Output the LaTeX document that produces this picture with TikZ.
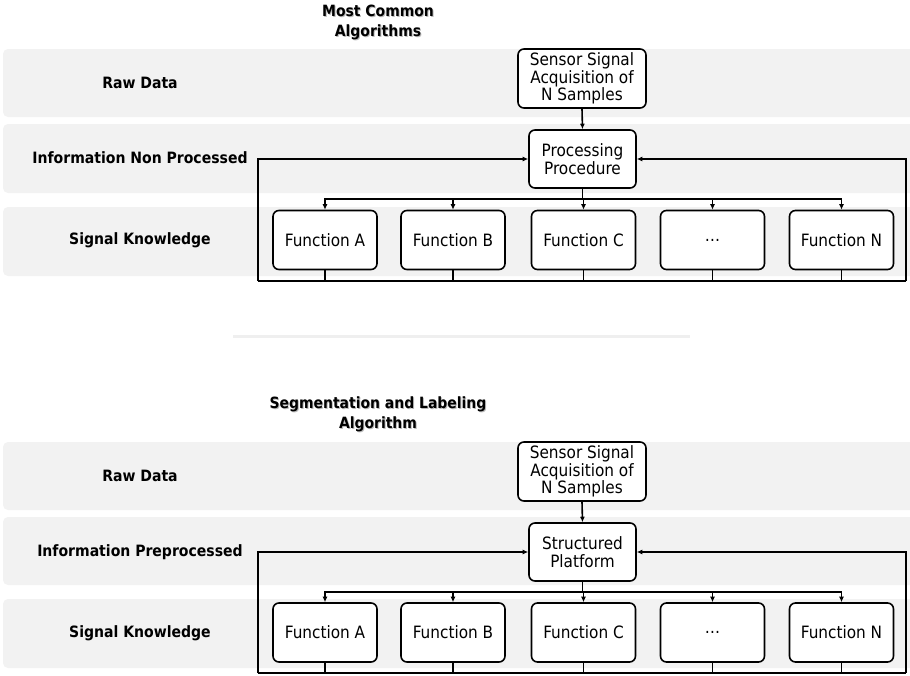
\documentclass[tikz,border=0pt]{standalone}
\usepackage{fontspec}
\setmainfont{DejaVu Sans Condensed}
\usetikzlibrary{arrows.meta}

\definecolor{bandgray}{HTML}{F2F2F2}
\definecolor{rulegray}{HTML}{EFEFEF}

\tikzset{
  band/.style={fill=bandgray, rounded corners=5pt},
  stagebox/.style={draw=black, line width=1.6pt, rounded corners=6pt, fill=white,
    align=center, inner sep=0pt, font=\fontsize{17}{17.6}\selectfont},
  funcbox/.style={stagebox, minimum width=104pt, minimum height=59pt},
  rowlabel/.style={font=\bfseries\fontsize{15.6}{17}\selectfont, anchor=center},
  titletext/.style={font=\bfseries\fontsize{15.5}{20}\selectfont, align=center},
  titleshadow/.style={titletext, text=black!45, opacity=0.6},
  link/.style={line width=1.6pt},
  arr/.style={link, -{Latex[length=5.5pt,width=5pt]}},
}

\begin{document}
\begin{tikzpicture}[x=1pt, y=-1pt]
\useasboundingbox (0,0) rectangle (910,675);

% ---------- upper panel ----------
\node[titleshadow] (t1s) at (379,23) {Most Common\\Algorithms};
\node[titletext]   (t1)  at (378,22) {Most Common\\Algorithms};

\fill[band] (3,49)  rectangle (920,117);
\fill[band] (3,124) rectangle (920,193);
\fill[band] (3,207) rectangle (920,276);

\node[rowlabel] (r1a) at (140,83)  {Raw Data};
\node[rowlabel] (r2a) at (140,158) {Information Non Processed};
\node[rowlabel] (r3a) at (140,240) {Signal Knowledge};

\node[stagebox, minimum width=128pt, minimum height=59pt] (sA) at (582,78.5)
  {Sensor Signal\\Acquisition of\\N Samples};
\node[stagebox, minimum width=107pt, minimum height=58pt] (pA) at (582.5,159)
  {Processing\\Procedure};

\node[funcbox] (fA1) at (325,240) {Function A};
\node[funcbox] (fA2) at (453,240) {Function B};
\node[funcbox] (fA3) at (583.5,240) {Function C};
\node[funcbox] (fA4) at (712.5,240) {\dots};
\node[funcbox] (fA5) at (841.5,240) {Function N};

\coordinate (busA) at (582,199);
\coordinate (botLA) at (258,281);
\coordinate (botRA) at (906,281);

\draw[arr] (sA.south) -- (pA.north);
\foreach \i in {1,...,5}{
  \draw[arr] (pA.south) -- (pA.south |- busA) -| (fA\i.north);
  \draw[link] (fA\i.south) -- (fA\i.south |- botLA);
}
\draw[link] (botLA) -- (botRA);
\draw[arr] (botLA) |- (pA.west);
\draw[arr] (botRA) |- (pA.east);

% ---------- divider ----------
\fill[rulegray] (233,334.5) rectangle (690,337.5);

% ---------- lower panel ----------
\begin{scope}[yshift=-392pt]
\node[titleshadow] (t2s) at (379,23) {Segmentation and Labeling\\Algorithm};
\node[titletext]   (t2)  at (378,22) {Segmentation and Labeling\\Algorithm};

\fill[band] (3,50)  rectangle (920,118);
\fill[band] (3,125) rectangle (920,193);
\fill[band] (3,207) rectangle (920,276);

\node[rowlabel] (r1b) at (140,84)  {Raw Data};
\node[rowlabel] (r2b) at (140,160) {Information Preprocessed};
\node[rowlabel] (r3b) at (140,241) {Signal Knowledge};

\node[stagebox, minimum width=128pt, minimum height=59pt] (sB) at (582,79.5)
  {Sensor Signal\\Acquisition of\\N Samples};
\node[stagebox, minimum width=107pt, minimum height=58pt] (pB) at (582.5,160)
  {Structured\\Platform};

\node[funcbox] (fB1) at (325,240.5) {Function A};
\node[funcbox] (fB2) at (453,240.5) {Function B};
\node[funcbox] (fB3) at (583.5,240.5) {Function C};
\node[funcbox] (fB4) at (712.5,240.5) {\dots};
\node[funcbox] (fB5) at (841.5,240.5) {Function N};

\coordinate (busB) at (582,200);
\coordinate (botLB) at (258,281);
\coordinate (botRB) at (906,281);

\draw[arr] (sB.south) -- (pB.north);
\foreach \i in {1,...,5}{
  \draw[arr] (pB.south) -- (pB.south |- busB) -| (fB\i.north);
  \draw[link] (fB\i.south) -- (fB\i.south |- botLB);
}
\draw[link] (botLB) -- (botRB);
\draw[arr] (botLB) |- (pB.west);
\draw[arr] (botRB) |- (pB.east);
\end{scope}
\end{tikzpicture}
\end{document}
